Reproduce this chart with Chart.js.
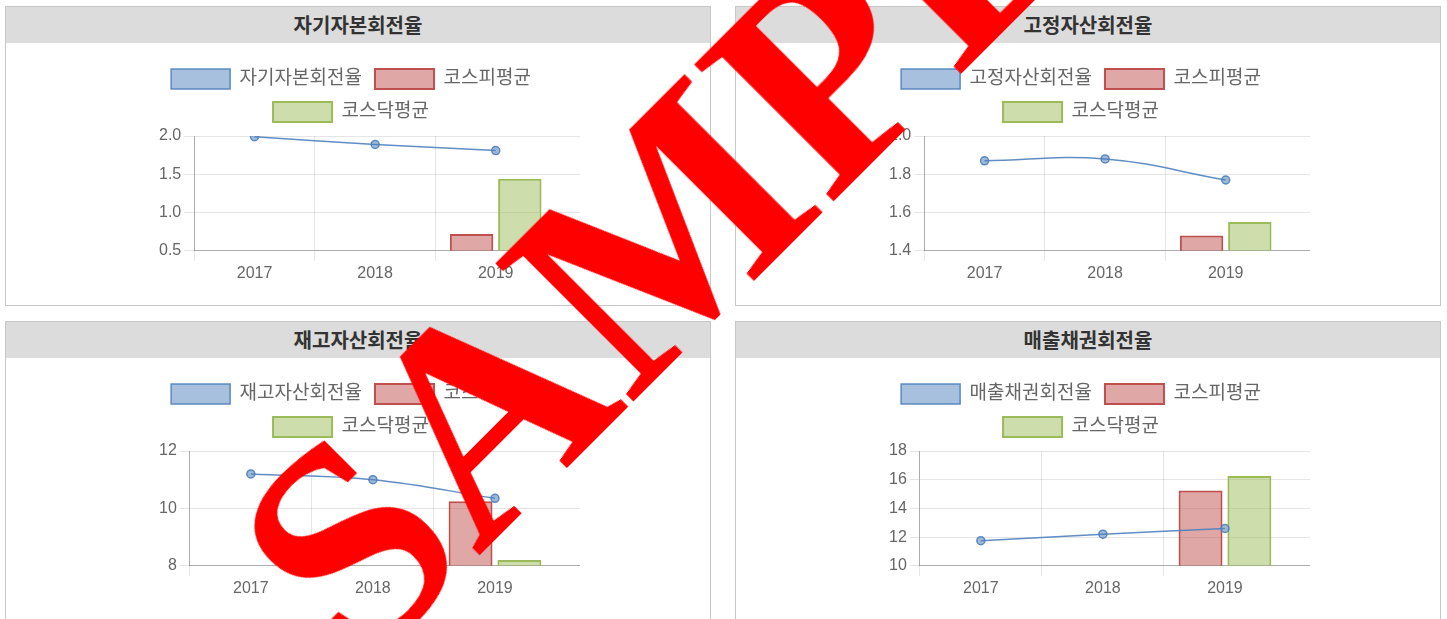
<!DOCTYPE html>
<html lang="ko">
<head>
<meta charset="utf-8">
<title>회전율 비교</title>
<script src="https://cdn.jsdelivr.net/npm/chart.js@4.4.1/dist/chart.umd.min.js"></script>
<style>
    html, body { margin: 0; padding: 0; background: #fff; overflow: hidden; }
    body { width: 1447px; height: 619px; position: relative; font-family: 'Noto Sans CJK KR', sans-serif; }
    .panel { position: absolute; width: 704px; height: 298px; border: 1px solid #c8c8c8; background: #fff; }
    .panel h3 { margin: 0; height: 36px; line-height: 36px; background: #dcdcdc; text-align: center;
        font-size: 20px; font-weight: bold; color: #333; }
    .panel canvas { position: absolute; left: 116px; top: 49px; }
    #p1 { left: 5px; top: 6px; }
    #p2 { left: 735px; top: 6px; }
    #p3 { left: 5px; top: 321px; }
    #p4 { left: 735px; top: 321px; }
    .stamp { position: absolute; left: 728px; top: 164px; z-index: 10; pointer-events: none;
        transform: translate(-50%, -50%) rotate(-45deg); white-space: nowrap; line-height: 1;
        font-family: 'Liberation Serif', serif; font-weight: bold; font-size: 298px; color: #ff0000; }
</style>
</head>
<body>
<div class="panel" id="p1"><h3></h3><canvas id="chart1" width="458" height="230"></canvas></div>
<div class="panel" id="p2"><h3></h3><canvas id="chart2" width="458" height="230"></canvas></div>
<div class="panel" id="p3"><h3></h3><canvas id="chart3" width="458" height="230"></canvas></div>
<div class="panel" id="p4"><h3></h3><canvas id="chart4" width="458" height="230"></canvas></div>
<div class="stamp">SAMPLE</div>

<script>
const yearLabels = ['2017', '2018', '2019'];
const chartTitles = ['자기자본회전율', '고정자산회전율', '재고자산회전율', '매출채권회전율'];
const kospiLabel = '코스피평균';
const kosdaqLabel = '코스닥평균';

const equityTurnover = [1.99, 1.89, 1.81];
const equityKospi = [null, null, 0.72];
const equityKosdaq = [null, null, 1.44];
const equityTicks = [0.5, 1.0, 1.5, 2.0];

const fixedTurnover = [1.87, 1.88, 1.77];
const fixedKospi = [null, null, 1.48];
const fixedKosdaq = [null, null, 1.55];
const fixedTicks = [1.4, 1.6, 1.8, 2.0];

const inventoryTurnover = [11.2, 11.0, 10.35];
const inventoryKospi = [null, null, 10.25];
const inventoryKosdaq = [null, null, 8.2];
const inventoryTicks = [8, 10, 12];

const receivableTurnover = [11.75, 12.2, 12.6];
const receivableKospi = [null, null, 15.25];
const receivableKosdaq = [null, null, 16.25];
const receivableTicks = [10, 12, 14, 16, 18];

Chart.defaults.font.family = "'Liberation Sans', 'Noto Sans CJK KR', sans-serif";
Chart.defaults.color = '#666';

const gridColor = 'rgba(0, 0, 0, 0.1)';
const axisColor = 'rgba(0, 0, 0, 0.25)';

// old chart.js kept some room right of the last category, copy that
const squeezeX = {
    id: 'squeezeX',
    afterInit(chart) {
        // a bit more space under the legend
        const fit = chart.legend.fit;
        chart.legend.fit = function () {
            fit.call(this);
            this.height += 4;
        };
    },
    afterLayout(chart) {
        const x = chart.scales.x;
        x._endPixel -= 24;
        x._length = x._endPixel - x._startPixel;
    }
};

function createChart(canvasId, title, lineData, kospiData, kosdaqData, ticks) {
    const ctx = document.getElementById(canvasId).getContext('2d');
    const step = ticks[1] - ticks[0];
    const decimals = step < 1 ? 1 : 0;
    return new Chart(ctx, {
        type: 'bar',
        data: {
            labels: yearLabels,
            datasets: [{
                type: 'line',
                label: title,
                data: lineData,
                borderColor: 'rgba(79, 129, 189, 0.9)',
                backgroundColor: 'rgba(79, 129, 189, 0.5)',
                pointBackgroundColor: 'rgba(79, 129, 189, 0.55)',
                pointBorderColor: 'rgba(79, 129, 189, 0.9)',
                borderWidth: 1.5,
                pointRadius: 4,
                pointBorderWidth: 1.5,
                tension: 0.4,
                fill: false
            }, {
                label: kospiLabel,
                data: kospiData,
                backgroundColor: 'rgba(192, 80, 77, 0.5)',
                borderColor: 'rgba(192, 80, 77, 1)',
                borderWidth: 2
            }, {
                label: kosdaqLabel,
                data: kosdaqData,
                backgroundColor: 'rgba(155, 187, 89, 0.5)',
                borderColor: 'rgba(155, 187, 89, 1)',
                borderWidth: 2
            }]
        },
        options: {
            responsive: false,
            animation: false,
            layout: { autoPadding: false },
            plugins: {
                legend: {
                    labels: {
                        boxWidth: 59,
                        boxHeight: 20,
                        padding: 13,
                        font: { size: 19 },
                        color: '#666'
                    }
                },
                tooltip: { enabled: false }
            },
            scales: {
                x: {
                    grid: {
                        // hide the extra line at the end of the squeezed axis
                        color: c => c.type === 'tick' ? gridColor : 'transparent',
                        tickLength: 10
                    },
                    border: { color: axisColor },
                    ticks: { font: { size: 16 }, padding: 3 },
                    afterFit: scale => { scale.paddingRight = 0; }
                },
                y: {
                    min: ticks[0],
                    max: ticks[ticks.length - 1],
                    grid: { color: gridColor, tickLength: 10 },
                    border: { color: axisColor },
                    ticks: {
                        stepSize: step,
                        font: { size: 16 },
                        padding: 3,
                        callback: value => Number(value).toFixed(decimals)
                    },
                    afterFit: scale => { scale.width += 34; }
                }
            }
        },
        plugins: [squeezeX]
    });
}

document.querySelectorAll('.panel h3').forEach((h, i) => { h.textContent = chartTitles[i]; });

createChart('chart1', chartTitles[0], equityTurnover, equityKospi, equityKosdaq, equityTicks);
createChart('chart2', chartTitles[1], fixedTurnover, fixedKospi, fixedKosdaq, fixedTicks);
createChart('chart3', chartTitles[2], inventoryTurnover, inventoryKospi, inventoryKosdaq, inventoryTicks);
createChart('chart4', chartTitles[3], receivableTurnover, receivableKospi, receivableKosdaq, receivableTicks);
</script>
</body>
</html>
